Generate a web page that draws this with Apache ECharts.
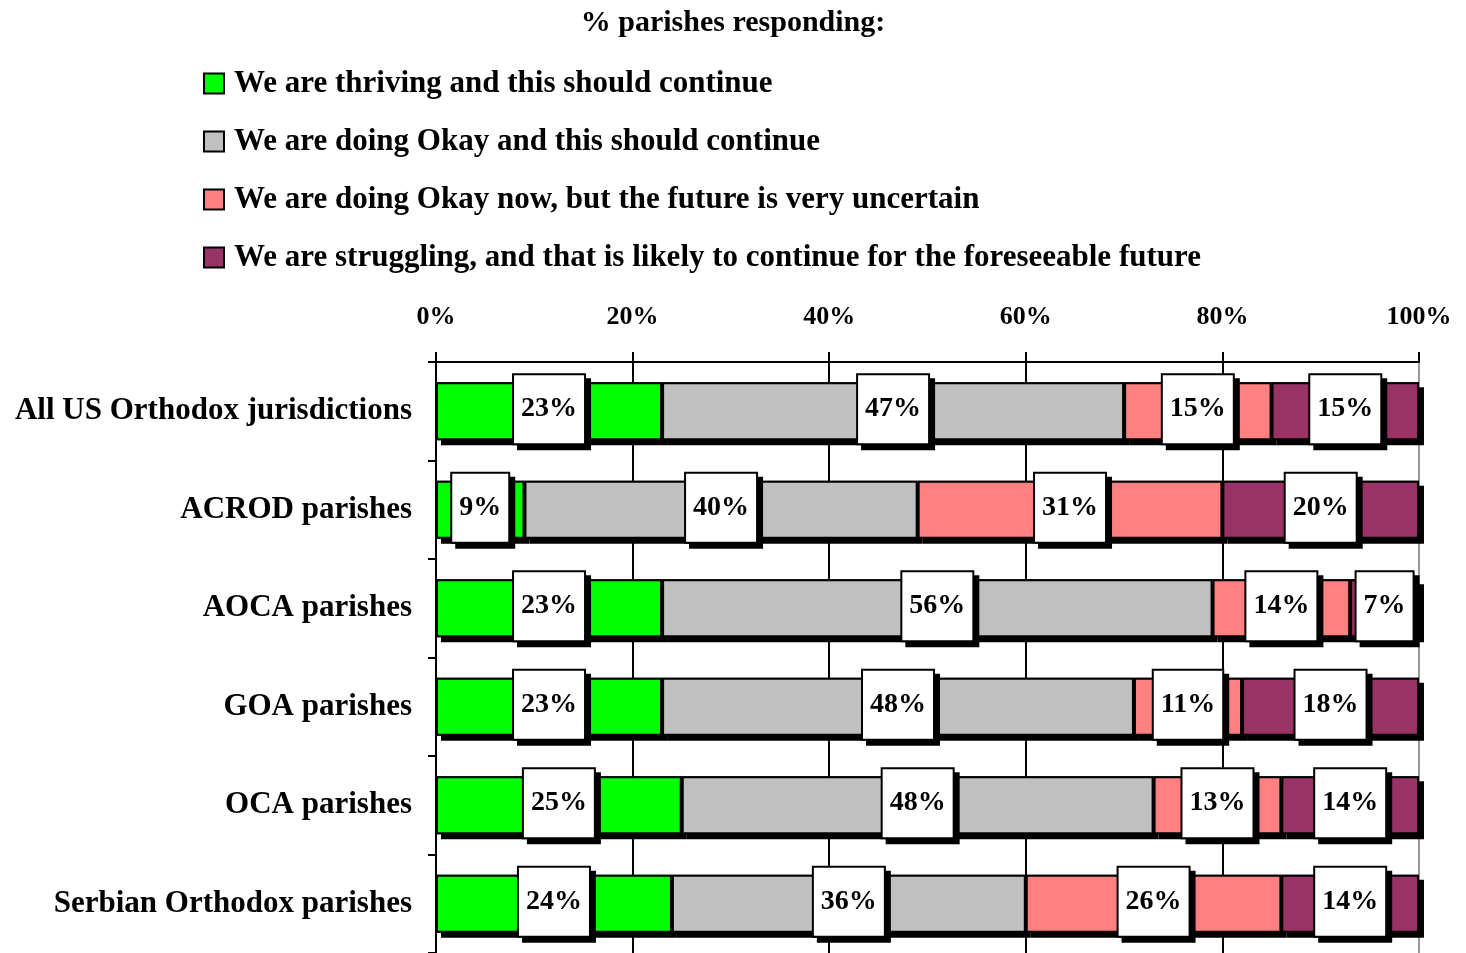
<!DOCTYPE html>
<html>
<head>
<meta charset="utf-8">
<script src="https://cdn.jsdelivr.net/npm/echarts@6/dist/echarts.min.js"></script>
<style>
  html, body { margin: 0; padding: 0; background: #fff; }
  #chart { width: 1466px; height: 953px; }
</style>
</head>
<body>
<div id="chart"></div>
<script>
// categories, top to bottom
let groups = ["All US Orthodox jurisdictions", "ACROD parishes", "AOCA parishes",
    "GOA parishes", "OCA parishes", "Serbian Orthodox parishes"];

let names = ["We are thriving and this should continue",
    "We are doing Okay and this should continue",
    "We are doing Okay now, but the future is very uncertain",
    "We are struggling, and that is likely to continue for the foreseeable future"];

let thriving = [23, 9, 23, 23, 25, 24];
let okay = [47, 40, 56, 48, 48, 36];
let uncertain = [15, 31, 14, 11, 13, 26];
let struggling = [15, 20, 7, 18, 14, 14];

let colors = ["#00ff00", "#c0c0c0", "#ff8080", "#993366"];
let font = "'Liberation Serif', serif";

var dom = document.getElementById("chart");
var myChart = echarts.init(dom);

// black bars drawn underneath, only their shadow stays visible
function shadowSeries(data) {
    return {
        name: 'shadow',
        type: 'bar',
        stack: 'shadow',
        data: data,
        barWidth: 58,
        barGap: '-100%',
        silent: true,
        z: 1,
        itemStyle: {
            color: '#000',
            shadowColor: '#000',
            shadowOffsetX: 5,
            shadowOffsetY: 5,
            shadowBlur: 0
        },
        emphasis: { disabled: true }
    };
}

function makeSeries(name, data, color) {
    return {
        name: name,
        type: 'bar',
        stack: 'all',
        data: data,
        barWidth: 58,
        barGap: '-100%',
        z: 2,
        itemStyle: {
            color: color,
            borderColor: '#000',
            borderWidth: 2
        },
        label: {
            show: true,
            position: 'inside',
            formatter: '{c}%',
            color: '#000',
            fontFamily: font,
            fontWeight: 'bold',
            fontSize: 28,
            backgroundColor: '#fff',
            borderColor: '#000',
            borderWidth: 2,
            padding: [20, 7, 20, 7],
            shadowColor: '#000',
            shadowOffsetX: 5,
            shadowOffsetY: 5,
            offset: [0, -2]
        },
        emphasis: { disabled: true }
    };
}

var option = {
    animation: false,
    title: {
        text: '% parishes responding:',
        left: 'center',
        top: 3,
        textStyle: { fontFamily: font, fontWeight: 'bold', fontSize: 30, color: '#000' }
    },
    legend: {
        orient: 'vertical',
        left: 198,
        top: 63,
        itemGap: 27,
        itemWidth: 20,
        itemHeight: 20,
        icon: 'rect',
        data: names,
        itemStyle: { borderColor: '#000', borderWidth: 2 },
        textStyle: { fontFamily: font, fontWeight: 'bold', fontSize: 31, color: '#000', padding: [0, 0, 0, 5] }
    },
    grid: { left: 436, right: 47, top: 362, height: 593 },
    xAxis: {
        type: 'value',
        position: 'top',
        min: 0,
        max: 100,
        interval: 20,
        axisLine: { show: true, lineStyle: { color: '#000', width: 2 } },
        axisTick: { show: true, length: 10, lineStyle: { color: '#000', width: 2 } },
        axisLabel: {
            formatter: '{value}%',
            margin: 32,
            color: '#000',
            fontFamily: font,
            fontWeight: 'bold',
            fontSize: 26
        },
        splitLine: { show: true, lineStyle: { color: ['#000', '#000', '#000', '#000', '#000', '#999'], width: 2 } }
    },
    yAxis: {
        type: 'category',
        inverse: true,
        data: groups,
        axisLine: { show: true, lineStyle: { color: '#000', width: 2 } },
        axisTick: { show: true, length: 8, lineStyle: { color: '#000', width: 2 } },
        axisLabel: {
            margin: 24,
            color: '#000',
            fontFamily: font,
            fontWeight: 'bold',
            fontSize: 31
        }
    },
    series: [
        shadowSeries(thriving),
        shadowSeries(okay),
        shadowSeries(uncertain),
        shadowSeries(struggling),
        makeSeries(names[0], thriving, colors[0]),
        makeSeries(names[1], okay, colors[1]),
        makeSeries(names[2], uncertain, colors[2]),
        makeSeries(names[3], struggling, colors[3])
    ]
};

myChart.setOption(option);
</script>
</body>
</html>
